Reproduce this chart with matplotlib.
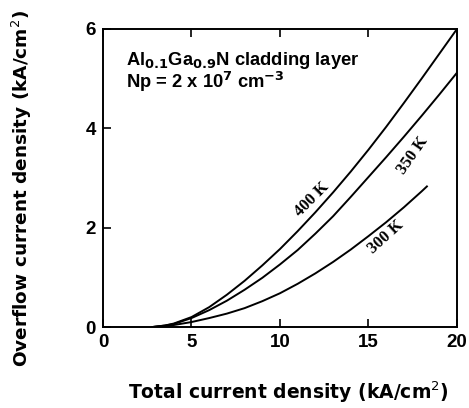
import matplotlib
matplotlib.use("Agg")
import matplotlib.pyplot as plt

x_400 = [2.8, 3.5, 4, 5, 6, 7, 8, 9, 10, 11, 12, 13, 14, 15, 16, 17, 18, 19, 20]
y_400 = [0, 0.03, 0.07, 0.2, 0.4, 0.65, 0.93, 1.24, 1.57, 1.93, 2.31, 2.71, 3.13, 3.57, 4.03, 4.51, 5.0, 5.5, 6.0]
x_350 = [2.8, 3.5, 4, 5, 6, 7, 8, 9, 10, 11, 12, 13, 14, 15, 16, 17, 18, 19, 20]
y_350 = [0, 0.03, 0.06, 0.18, 0.34, 0.53, 0.75, 0.99, 1.26, 1.55, 1.88, 2.23, 2.62, 3.02, 3.42, 3.83, 4.25, 4.68, 5.12]
x_300 = [2.8, 3.5, 4, 5, 6, 7, 8, 9, 10, 11, 12, 13, 14, 15, 16, 17, 18, 18.3]
y_300 = [0, 0.02, 0.04, 0.1, 0.18, 0.27, 0.38, 0.52, 0.68, 0.87, 1.08, 1.31, 1.56, 1.83, 2.11, 2.41, 2.73, 2.83]

xticks = [0, 5, 10, 15, 20]
yticks = [0, 2, 4, 6]

fig = plt.figure(figsize=(4.69, 4.08), dpi=100)
ax = fig.add_axes([0.2196, 0.1985, 0.7548, 0.7305])

for xs, ys in [(x_400, y_400), (x_350, y_350), (x_300, y_300)]:
    ax.plot(xs, ys, color="black", lw=1.4)

ax.set_xlim(0, 20)
ax.set_ylim(0, 6)
ax.set_xticks(xticks)
ax.set_yticks(yticks)
ax.tick_params(direction="in", length=6, width=1.2, top=True, right=False,
               labelsize=13.5, pad=5)
for lab in ax.get_xticklabels() + ax.get_yticklabels():
    lab.set_fontweight("bold")
    lab.set_fontfamily("Liberation Sans")
for s in ax.spines.values():
    s.set_linewidth(1.4)

fig.text(0.615, 0.038, "Total current density (kA/cm$^2$)", fontsize=13.5,
         fontweight="bold", family="DejaVu Sans", ha="center", va="center")
fig.text(0.047, 0.539, "Overflow current density (kA/cm$^2$)", fontsize=13.3,
         fontweight="bold", family="DejaVu Sans", ha="center", va="center",
         rotation=90)

ax.text(1.3, 5.27, r"Al$_{\mathbf{0.1}}$Ga$_{\mathbf{0.9}}$N cladding layer",
        fontsize=13.2, fontweight="bold", family="Liberation Sans")
ax.text(1.3, 4.81, r"Np = 2 x 10$^{\mathbf{7}}$ cm$^{\mathbf{-3}}$",
        fontsize=13.2, fontweight="bold", family="Liberation Sans")

ax.text(11.8, 2.56, "400 K", rotation=45, fontsize=12, fontweight="bold",
        family="Liberation Serif", ha="center", va="center")
ax.text(17.5, 3.46, "350 K", rotation=55, fontsize=12, fontweight="bold",
        family="Liberation Serif", ha="center", va="center")
ax.text(16.0, 1.81, "300 K", rotation=42, fontsize=12, fontweight="bold",
        family="Liberation Serif", ha="center", va="center")

fig.savefig("out.png", dpi=100)
